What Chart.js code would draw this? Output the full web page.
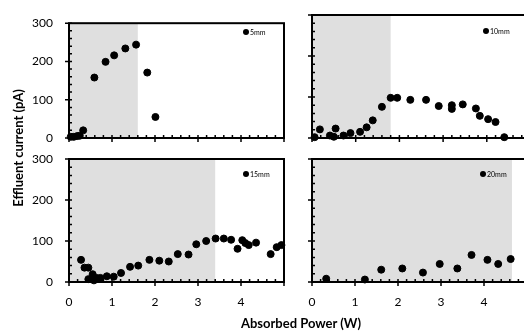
<!DOCTYPE html>
<html>
<head>
<meta charset="utf-8">
<script src="https://cdn.jsdelivr.net/npm/chart.js@4"></script>
<style>
body { margin:0; width:524px; height:333px; overflow:hidden; background:#fff; position:relative; font-family:Lato, sans-serif; }
canvas { position:absolute; left:0; top:0; }
#xtitle { position:absolute; left:201px; top:315px; width:200px; line-height:16px; text-align:center; font-weight:bold; font-size:13px; color:#000; }
#ytitle { position:absolute; left:-82px; top:140px; width:200px; line-height:16px; text-align:center; font-weight:bold; font-size:13px; color:#000; transform:rotate(-90deg); }
</style>
</head>
<body>
<canvas id="c0" width="540" height="333"></canvas>
<canvas id="c1" width="540" height="333"></canvas>
<canvas id="c2" width="540" height="333"></canvas>
<canvas id="c3" width="540" height="333"></canvas>
<div id="ytitle">Effluent current (pA)</div>
<div id="xtitle">Absorbed Power (W)</div>
<script>
// absorbed power (W) and effluent current (pA) per gap
const power5 = [0.04, 0.11, 0.19, 0.25, 0.33, 0.59, 0.85, 1.05, 1.31, 1.56, 1.82, 2.01];
const current5 = [3, 3, 5, 6, 20, 158, 199, 216, 234, 244, 171, 55];

const power10 = [0.06, 0.18, 0.41, 0.5, 0.54, 0.72, 0.88, 1.1, 1.25, 1.39, 1.6, 1.8, 1.95, 2.25, 2.61, 2.9, 3.2, 3.2, 3.45, 3.75, 3.84, 4.03, 4.2, 4.4];
const current10 = [2, 21, 6, 3, 23, 6, 12, 15, 26, 43, 76, 98, 98, 93, 93, 78, 80, 71, 82, 72, 54, 46, 39, 2];

const power15 = [0.28, 0.36, 0.45, 0.45, 0.55, 0.58, 0.64, 0.73, 0.88, 1.04, 1.21, 1.42, 1.61, 1.87, 2.1, 2.32, 2.53, 2.78, 2.96, 3.19, 3.41, 3.6, 3.77, 3.92, 4.03, 4.1, 4.18, 4.35, 4.69, 4.83, 4.94];
const current15 = [54, 35, 35, 7, 19, 4, 10, 10, 14, 13, 22, 37, 40, 54, 52, 50, 68, 67, 92, 100, 106, 106, 103, 81, 102, 95, 90, 96, 68, 85, 90];

const power20 = [0.33, 1.23, 1.61, 2.1, 2.58, 2.97, 3.38, 3.71, 4.08, 4.33, 4.62];
const current20 = [8, 6, 30, 33, 23, 44, 33, 66, 54, 44, 56];

const gapLabels = ['5mm', '10mm', '15mm', '20mm'];
const shadeEnd = [1.6, 1.8, 3.4, 4.65];
const xTickLabels = [0, 1, 2, 3, 4];

const powers = [power5, power10, power15, power20];
const currents = [current5, current10, current15, current20];

// panel boxes on the page
const boxes = [
    { l: 69, r: 284, t: 15, b: 138, yLab: true, xLab: false, lx: 246, ly: 32 },
    { l: 312, r: 530.5, t: 15, b: 138, yLab: false, xLab: false, lx: 486, ly: 31 },
    { l: 69, r: 284, t: 159, b: 282, yLab: true, xLab: true, lx: 246, ly: 174 },
    { l: 312, r: 530.5, t: 159, b: 282, yLab: false, xLab: true, lx: 483, ly: 174 }
];

const panelPlugin = {
    id: 'panel',
    beforeDatasetsDraw(chart, args, opts) {
        const { ctx, chartArea: a } = chart;
        const x = chart.scales.x, y = chart.scales.y;
        ctx.save();
        ctx.fillStyle = '#dfdfdf';
        const xe = x.getPixelForValue(opts.shade);
        ctx.fillRect(a.left, a.top, xe - a.left, a.bottom - a.top);

        ctx.strokeStyle = '#000';
        ctx.lineWidth = 1.5;
        ctx.beginPath();
        for (let i = 0; i <= 25; i++) {
            const px = x.getPixelForValue(i / 5);
            ctx.moveTo(px, a.bottom - 3);
            ctx.lineTo(px, i % 5 === 0 ? a.bottom + 4 : a.bottom);
        }
        for (let i = 0; i <= 15; i++) {
            const py = y.getPixelForValue(i * 20);
            ctx.moveTo(a.left + 3, py);
            ctx.lineTo(i % 5 === 0 ? a.left - 4 : a.left, py);
        }
        ctx.stroke();

        ctx.lineWidth = 2;
        ctx.strokeRect(a.left, a.top, a.right - a.left, a.bottom - a.top);
        ctx.restore();
    },
    afterDraw(chart, args, opts) {
        const ctx = chart.ctx;
        ctx.save();
        ctx.fillStyle = '#000';
        ctx.beginPath();
        ctx.arc(opts.lx, opts.ly, 3, 0, Math.PI * 2);
        ctx.fill();
        ctx.font = '7px Lato';
        ctx.textBaseline = 'middle';
        ctx.fillText(opts.label, opts.lx + 4, opts.ly + 0.5);
        ctx.restore();
    }
};

boxes.forEach((box, k) => {
    new Chart(document.getElementById('c' + k), {
        type: 'scatter',
        data: {
            datasets: [{
                label: gapLabels[k],
                data: powers[k].map((p, i) => ({ x: p, y: currents[k][i] })),
                backgroundColor: '#000',
                borderColor: '#000',
                pointRadius: 3.5,
                pointHoverRadius: 3.5,
                clip: false
            }]
        },
        options: {
            responsive: false,
            animation: false,
            events: [],
            layout: { padding: { left: box.l - 40, right: 540 - box.r, top: box.t, bottom: 333 - box.b - 40 } },
            plugins: {
                legend: { display: false },
                tooltip: { enabled: false },
                panel: { shade: shadeEnd[k], label: gapLabels[k], lx: box.lx, ly: box.ly }
            },
            scales: {
                x: {
                    type: 'linear', min: 0, max: 5,
                    grid: { display: false, drawTicks: false },
                    border: { display: false },
                    ticks: {
                        stepSize: 1, display: box.xLab, padding: 13, color: '#000',
                        font: { family: 'Lato', size: 12 },
                        callback: v => xTickLabels.includes(v) ? v : ''
                    },
                    afterFit: s => { s.height = 40; }
                },
                y: {
                    min: 0, max: 300,
                    grid: { display: false, drawTicks: false },
                    border: { display: false },
                    ticks: {
                        stepSize: 100, display: box.yLab, padding: 16, color: '#000',
                        font: { family: 'Lato', size: 12 }
                    },
                    afterFit: s => { s.width = 40; }
                }
            }
        },
        plugins: [panelPlugin]
    });
});
</script>
</body>
</html>
